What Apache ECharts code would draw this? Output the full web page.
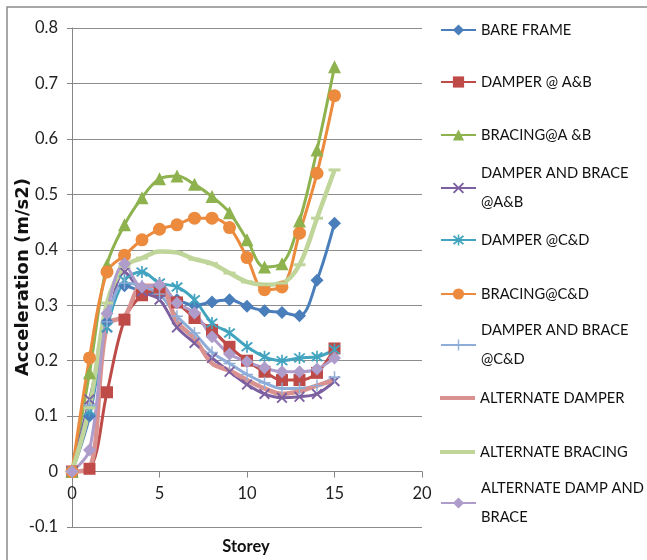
<!DOCTYPE html>
<html>
<head>
<meta charset="utf-8">
<script src="https://cdn.jsdelivr.net/npm/echarts@6/dist/echarts.min.js"></script>
<style>
  html, body { margin: 0; padding: 0; background: #fff; }
  #chart { width: 647px; height: 560px; }
</style>
</head>
<body>
<div id="chart"></div>
<script>
// Storey numbers along the x axis
const storeys = [0, 1, 2, 3, 4, 5, 6, 7, 8, 9, 10, 11, 12, 13, 14, 15];

// Acceleration (m/s2) per storey for each configuration
const bareFrame    = [0, 0.10, 0.27, 0.335, 0.325, 0.32, 0.31, 0.30, 0.306, 0.31, 0.298, 0.29, 0.287, 0.281, 0.345, 0.448];
const damperAB     = [0, 0.005, 0.143, 0.274, 0.318, 0.327, 0.305, 0.277, 0.255, 0.225, 0.20, 0.18, 0.165, 0.165, 0.178, 0.222];
const bracingAB    = [0, 0.178, 0.373, 0.445, 0.494, 0.528, 0.533, 0.518, 0.496, 0.467, 0.418, 0.369, 0.375, 0.452, 0.58, 0.73];
const dampBraceAB  = [0, 0.13, 0.26, 0.36, 0.325, 0.31, 0.26, 0.232, 0.205, 0.18, 0.157, 0.14, 0.133, 0.135, 0.14, 0.163];
const damperCD     = [0, 0.11, 0.26, 0.345, 0.36, 0.34, 0.333, 0.31, 0.268, 0.25, 0.225, 0.207, 0.2, 0.205, 0.207, 0.22];
const bracingCD    = [0, 0.205, 0.36, 0.39, 0.418, 0.437, 0.445, 0.457, 0.457, 0.44, 0.386, 0.328, 0.333, 0.43, 0.538, 0.678];
const dampBraceCD  = [0, 0.12, 0.27, 0.34, 0.335, 0.32, 0.28, 0.25, 0.215, 0.195, 0.175, 0.16, 0.15, 0.15, 0.155, 0.17];
const altDamper    = [0, 0.005, 0.265, 0.28, 0.335, 0.335, 0.27, 0.24, 0.195, 0.182, 0.165, 0.15, 0.14, 0.145, 0.155, 0.165];
const altBracing   = [0, 0.115, 0.304, 0.37, 0.385, 0.397, 0.395, 0.383, 0.375, 0.358, 0.342, 0.337, 0.34, 0.373, 0.457, 0.544];
const altDampBrace = [0, 0.039, 0.285, 0.375, 0.333, 0.337, 0.304, 0.286, 0.243, 0.212, 0.198, 0.187, 0.18, 0.18, 0.185, 0.205];

// Series names and how their legend labels wrap
const seriesNames = [
  'BARE FRAME', 'DAMPER @ A&B', 'BRACING@A &B', 'DAMPER AND BRACE @A&B', 'DAMPER @C&D',
  'BRACING@C&D', 'DAMPER AND BRACE @C&D', 'ALTERNATE DAMPER', 'ALTERNATE BRACING', 'ALTERNATE DAMP AND BRACE'
];
const legendLabels = [
  'BARE FRAME', 'DAMPER @ A&B', 'BRACING@A &B', 'DAMPER AND BRACE\n@A&B', 'DAMPER @C&D',
  'BRACING@C&D', 'DAMPER AND BRACE\n@C&D', 'ALTERNATE DAMPER', 'ALTERNATE BRACING', 'ALTERNATE DAMP AND\nBRACE'
];
const seriesValues = [bareFrame, damperAB, bracingAB, dampBraceAB, damperCD,
  bracingCD, dampBraceCD, altDamper, altBracing, altDampBrace];

// Axis ranges and tick steps
const yMin = -0.1, yMax = 0.8, yStep = 0.1;
const xMin = 0, xMax = 20, xStep = 5;

const FONT = "Lato, 'Open Sans', sans-serif";

// Grid box in pixels
const GRID_TOP = 28, GRID_BOTTOM = 33, GRID_LEFT = 72, GRID_RIGHT = 225;
const PLOT_H = 560 - GRID_TOP - GRID_BOTTOM;
// Lift the x axis from the bottom edge up to the zero line
const xAxisOffset = -PLOT_H * (0 - yMin) / (yMax - yMin);

// Marker shapes
const crossPath = 'path://M0,1.2L1.2,0L10,8.8L8.8,10Z M8.8,0L10,1.2L1.2,10L0,8.8Z';
const starPath = 'path://M0,1.2L1.2,0L10,8.8L8.8,10Z M8.8,0L10,1.2L1.2,10L0,8.8Z M4.3,-1L5.7,-1L5.7,11L4.3,11Z';
const plusPath = 'path://M4.4,0L5.6,0L5.6,10L4.4,10Z M0,4.4L10,4.4L10,5.6L0,5.6Z';

// plainKey: legend shows a bare line for this series
const styles = [
  { color: '#4A7EBB', symbol: 'diamond', size: 13, width: 3 },
  { color: '#BE4B48', symbol: 'rect', size: 12, width: 3 },
  { color: '#8DB24E', symbol: 'triangle', size: 13, width: 3 },
  { color: '#7D60A0', symbol: crossPath, size: 11, width: 3 },
  { color: '#42A4BF', symbol: starPath, size: 12, width: 3 },
  { color: '#EC8A3E', symbol: 'circle', size: 13, width: 3 },
  { color: '#8EADD8', symbol: plusPath, size: 12, width: 3 },
  { color: '#D99290', symbol: 'none', size: 0, width: 4.5, plainKey: true },
  { color: '#BFD59A', symbol: 'rect', size: [12, 3], width: 4.5, plainKey: true },
  { color: '#AE9CCA', symbol: 'diamond', size: 13, width: 3 }
];

const series = seriesNames.map((name, i) => ({
  name: name,
  type: 'line',
  smooth: 0.35,
  data: storeys.map((s, k) => [s, seriesValues[i][k]]),
  symbol: styles[i].symbol,
  symbolSize: styles[i].size,
  showSymbol: styles[i].symbol !== 'none',
  lineStyle: { color: styles[i].color, width: styles[i].width },
  itemStyle: { color: styles[i].color, borderWidth: 0 },
  emphasis: { disabled: true },
  animation: false
}));

// One legend block per series, stacked down the right side
const legendCentres = [30, 82, 135, 188, 240, 294, 345, 398, 452, 503];
const LINE_H = 29;
const legends = seriesNames.map((name, i) => {
  const wrapped = legendLabels[i].indexOf('\n') >= 0;
  const plain = !!styles[i].plainKey;
  return {
    data: [plain ? { name: name, icon: 'rect' } : name],
    orient: 'vertical',
    left: 440,
    top: legendCentres[i] - (wrapped ? 1.5 * LINE_H : 0.5 * LINE_H),
    padding: 0,
    itemWidth: 35,
    itemHeight: plain ? 4 : 14,
    selectedMode: false,
    formatter: () => legendLabels[i],
    textStyle: {
      fontFamily: FONT,
      fontSize: 14.7,
      color: '#111',
      lineHeight: LINE_H,
      padding: wrapped ? [LINE_H, 0, 0, 0] : 0
    }
  };
});

const chart = echarts.init(document.getElementById('chart'), null, { renderer: 'canvas' });
chart.setOption({
  backgroundColor: '#fff',
  animation: false,
  grid: { left: GRID_LEFT, right: GRID_RIGHT, top: GRID_TOP, bottom: GRID_BOTTOM, containLabel: false },
  legend: legends,
  xAxis: {
    type: 'value',
    min: xMin, max: xMax, interval: xStep,
    offset: xAxisOffset,
    axisLine: { show: true, onZero: false, lineStyle: { color: '#868686', width: 1 } },
    axisTick: { show: true, length: 6, inside: false, lineStyle: { color: '#868686' } },
    axisLabel: { fontFamily: FONT, fontSize: 16.5, color: '#222', margin: 14 },
    splitLine: { show: false }
  },
  yAxis: {
    type: 'value',
    min: yMin, max: yMax, interval: yStep,
    axisLine: { show: true, onZero: false, lineStyle: { color: '#868686', width: 1 } },
    axisTick: { show: true, length: 5, lineStyle: { color: '#868686' } },
    axisLabel: {
      fontFamily: FONT, fontSize: 16.5, color: '#222', margin: 14,
      formatter: v => String(Math.round(v * 10) / 10)
    },
    splitLine: { show: true, lineStyle: { color: '#8c8c8c', width: 1 } }
  },
  graphic: [
    {
      type: 'rect', silent: true, z: -10,
      shape: { x: 7, y: 7, width: 660, height: 580 },
      style: { fill: 'none', stroke: '#8a8a8a', lineWidth: 1.5 }
    },
    {
      type: 'text', x: 246, y: 547,
      style: { text: 'Storey', font: "bold 16.5px Lato, 'Open Sans', sans-serif", fill: '#111', textAlign: 'center', textVerticalAlign: 'middle' }
    },
    {
      type: 'text', x: 23, y: 277, rotation: Math.PI / 2,
      style: { text: 'Acceleration (m/s2)', font: "bold 18px 'DejaVu Sans', sans-serif", fill: '#111', textAlign: 'center', textVerticalAlign: 'middle' }
    }
  ],
  series: series
});
</script>
</body>
</html>
